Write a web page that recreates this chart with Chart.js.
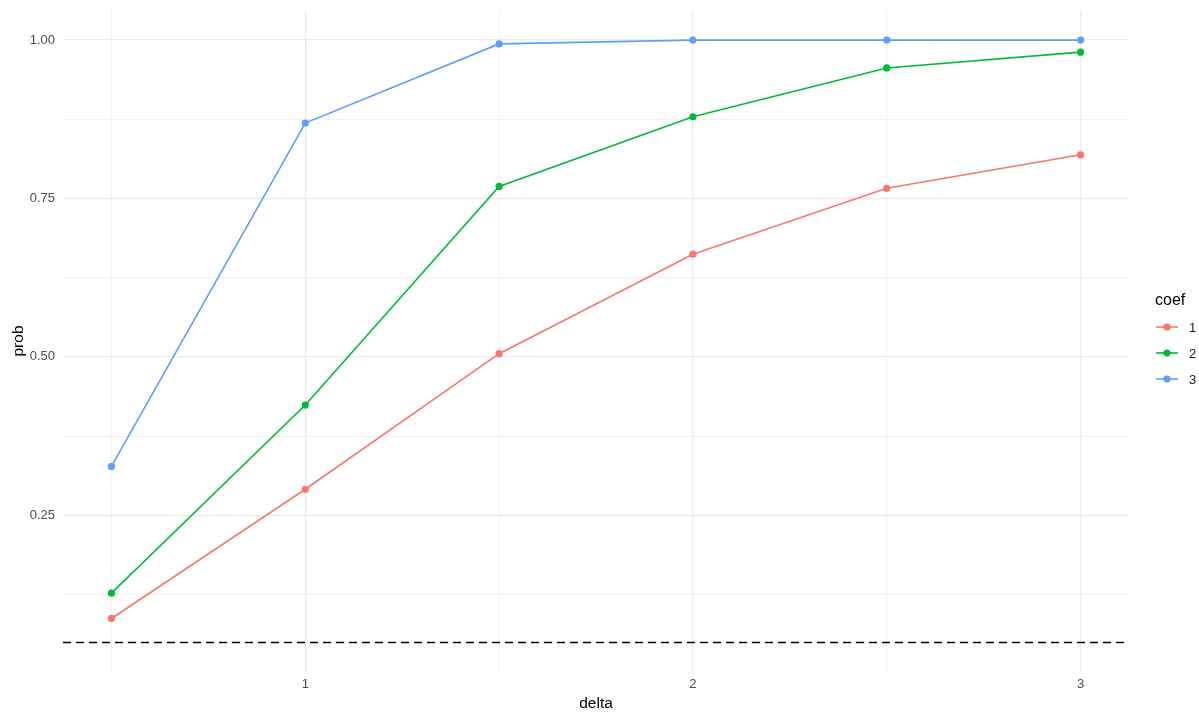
<!DOCTYPE html>
<html>
<head>
<meta charset="utf-8">
<script src="https://cdn.jsdelivr.net/npm/chart.js@4"></script>
<style>
  html, body { margin: 0; padding: 0; background: #fff; }
  #wrap { width: 1199px; height: 715px; }
</style>
</head>
<body>
<div id="wrap"><canvas id="chartProb" width="1199" height="715"></canvas></div>
<script>
// ── Datos ────────────────────────────────────────────────────────────────
var deltas = [0.5, 1, 1.5, 2, 2.5, 3];
var coef1  = [0.087, 0.291, 0.505, 0.662, 0.766, 0.819];
var coef2  = [0.127, 0.424, 0.769, 0.879, 0.956, 0.981];
var coef3  = [0.327, 0.869, 0.994, 1.000, 1.000, 1.000];
var coefNames  = ['1', '2', '3'];
var coefColors = ['#F8766D', '#00BA38', '#619CFF'];
var xTicks = [0.5, 1, 1.5, 2, 2.5, 3];
var xMajor = [1, 2, 3];
var yTicks = [0.125, 0.25, 0.375, 0.5, 0.625, 0.75, 0.875, 1.0];
var yMajor = [0.25, 0.5, 0.75, 1.0];
var refLine = 0.05;

var FONT = "'Liberation Sans', Arial, sans-serif";

function isMajor(list, v) {
    return list.some(function (m) { return Math.abs(m - v) < 1e-9; });
}

function serie(vals) {
    return deltas.map(function (d, i) { return { x: d, y: vals[i] }; });
}

var datasets = [coef1, coef2, coef3].map(function (vals, i) {
    return {
        label: coefNames[i],
        data: serie(vals),
        borderColor: coefColors[i],
        backgroundColor: coefColors[i],
        borderWidth: 1.6,
        pointRadius: 3.6,
        pointHoverRadius: 3.6,
        pointBorderWidth: 0,
        tension: 0
    };
});

// ── Línea de referencia punteada ─────────────────────────────────────────
var refLinePlugin = {
    id: 'refLine',
    afterDatasetsDraw: function (chart) {
        var ctx = chart.ctx, area = chart.chartArea;
        var y = Math.round(chart.scales.y.getPixelForValue(refLine)) + 0.5;
        ctx.save();
        ctx.strokeStyle = '#000';
        ctx.lineWidth = 1.6;
        ctx.setLineDash([8, 5]);
        ctx.beginPath();
        ctx.moveTo(area.left, y);
        ctx.lineTo(area.right, y);
        ctx.stroke();
        ctx.restore();
    }
};

// ── Leyenda estilo ggplot ────────────────────────────────────────────────
var legendPlugin = {
    id: 'ggLegend',
    afterDraw: function (chart) {
        var ctx = chart.ctx;
        var x0 = chart.chartArea.right + 27;
        ctx.save();
        ctx.fillStyle = '#000';
        ctx.font = '16px ' + FONT;
        ctx.textBaseline = 'alphabetic';
        ctx.textAlign = 'left';
        ctx.fillText('coef', x0 - 1, 305);
        ctx.textBaseline = 'middle';
        chart.data.datasets.forEach(function (ds, i) {
            var cy = 327 + i * 26;
            ctx.strokeStyle = ds.borderColor;
            ctx.lineWidth = 1.6;
            ctx.beginPath();
            ctx.moveTo(x0, cy);
            ctx.lineTo(x0 + 22, cy);
            ctx.stroke();
            ctx.fillStyle = ds.borderColor;
            ctx.beginPath();
            ctx.arc(x0 + 11, cy, 3.6, 0, Math.PI * 2);
            ctx.fill();
            ctx.fillStyle = '#1a1a1a';
            ctx.font = '13px ' + FONT;
            ctx.fillText(ds.label, x0 + 33, cy + 1);
        });
        ctx.restore();
    }
};

new Chart(document.getElementById('chartProb').getContext('2d'), {
    type: 'line',
    data: { datasets: datasets },
    plugins: [refLinePlugin, legendPlugin],
    options: {
        responsive: false,
        animation: false,
        layout: { padding: { left: 0, top: 10, right: 70, bottom: 0 } },
        plugins: {
            legend: { display: false },
            tooltip: { enabled: false }
        },
        scales: {
            x: {
                type: 'linear',
                min: 0.375,
                max: 3.125,
                afterBuildTicks: function (s) {
                    s.ticks = xTicks.map(function (v) { return { value: v }; });
                },
                afterFit: function (s) {
                    s.height = 43;
                    s.paddingLeft = 0;
                    s.paddingRight = 0;
                },
                border: { display: false },
                grid: {
                    drawTicks: false,
                    color: '#ebebeb',
                    lineWidth: function (c) { return isMajor(xMajor, c.tick.value) ? 1.2 : 0.7; }
                },
                ticks: {
                    padding: 5,
                    autoSkip: false,
                    maxRotation: 0,
                    color: '#4d4d4d',
                    font: { family: FONT, size: 13 },
                    callback: function (v) { return isMajor(xMajor, v) ? String(v) : ''; }
                },
                title: {
                    display: true,
                    text: 'delta',
                    color: '#000',
                    font: { family: FONT, size: 15.5 },
                    padding: { top: 0, bottom: 1.5 }
                }
            },
            y: {
                type: 'linear',
                min: 0.0025,
                max: 1.0475,
                afterBuildTicks: function (s) {
                    s.ticks = yTicks.map(function (v) { return { value: v }; });
                },
                afterFit: function (s) {
                    s.width = 63;
                    s.paddingTop = 0;
                    s.paddingBottom = 0;
                },
                border: { display: false },
                grid: {
                    drawTicks: false,
                    color: '#ebebeb',
                    lineWidth: function (c) { return isMajor(yMajor, c.tick.value) ? 1.2 : 0.7; }
                },
                ticks: {
                    padding: 8,
                    autoSkip: false,
                    color: '#4d4d4d',
                    font: { family: FONT, size: 13 },
                    callback: function (v) { return isMajor(yMajor, v) ? v.toFixed(2) : ''; }
                },
                title: {
                    display: true,
                    text: 'prob',
                    color: '#000',
                    font: { family: FONT, size: 15.5 },
                    padding: { top: 9, bottom: 0 }
                }
            }
        }
    }
});
</script>
</body>
</html>
